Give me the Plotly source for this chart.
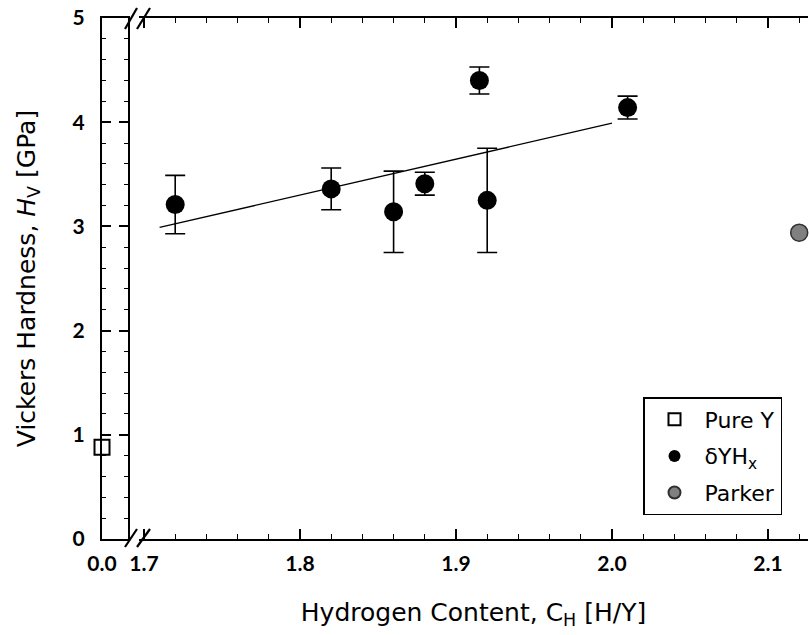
import plotly.graph_objects as go

# ---- data ----
pure_x = [0.0]
pure_y = [0.88]

dyh_x = [1.72, 1.82, 1.86, 1.88, 1.915, 1.92, 2.01]
dyh_y = [3.21, 3.36, 3.14, 3.41, 4.40, 3.25, 4.14]
dyh_err = [0.28, 0.20, 0.39, 0.11, 0.13, 0.50, 0.11]

parker_x = [2.12]
parker_y = [2.94]

fit_x = [1.71, 2.00]
fit_y = [2.99, 3.99]

x_ticks_main = [1.7, 1.8, 1.9, 2.0, 2.1]
x_ticks_main_text = ["1.7", "1.8", "1.9", "2.0", "2.1"]
y_ticks = [0, 1, 2, 3, 4, 5]

# ---- geometry (pixels) ----
W, H = 809, 635
ML, MR, MT, MB = 102, 1, 18, 96
PW = W - ML - MR
PH = H - MT - MB


def px(p):
    return (p - ML) / PW


def py(p):
    return (H - MB - p) / PH


TICKFONT = "Lato"
TEXTFONT = "DejaVu Sans"

fig = go.Figure()

fig.add_trace(go.Scatter(
    x=fit_x, y=fit_y, xaxis="x2", yaxis="y", mode="lines",
    line=dict(color="black", width=1.3), showlegend=False, hoverinfo="skip"))

fig.add_trace(go.Scatter(
    x=pure_x, y=pure_y, xaxis="x", yaxis="y", mode="markers", name="Pure Y",
    legendgroup="a",
    marker=dict(symbol="square-open", size=15, color="black", line=dict(width=2)),
    cliponaxis=False))

fig.add_trace(go.Scatter(
    x=dyh_x, y=dyh_y, xaxis="x2", yaxis="y", mode="markers", name="δYH<sub>x</sub>",
    legendgroup="b",
    error_y=dict(type="data", array=dyh_err, visible=True, color="black",
                 thickness=1.6, width=10),
    marker=dict(symbol="circle", size=19, color="black"),
    cliponaxis=False))

fig.add_trace(go.Scatter(
    x=parker_x, y=parker_y, xaxis="x2", yaxis="y", mode="markers", name="Parker",
    legendgroup="c",
    marker=dict(symbol="circle", size=17, color="#808080",
                line=dict(color="#303030", width=1.5)),
    cliponaxis=False))

tickfont = dict(family=TICKFONT, size=21, color="black", weight="bold")

x1_end = px(128)
x2_start = px(139)
scale = 0.1 / 156.0
x2_lo = 1.7 - (144 - 139) * scale
x2_hi = 1.7 + (W - MR - 144) * scale

fig.update_layout(
    width=W, height=H,
    margin=dict(l=ML, r=MR, t=MT, b=MB),
    paper_bgcolor="white", plot_bgcolor="white",
    font=dict(family=TEXTFONT, color="black"),
    showlegend=True,
    legend=dict(
        x=px(782), y=py(515), xanchor="right", yanchor="bottom",
        bgcolor="white", bordercolor="black", borderwidth=1.5,
        font=dict(family=TEXTFONT, size=22, color="black"),
        itemsizing="constant", itemwidth=50, tracegroupgap=5,
    ),
    xaxis=dict(
        domain=[0, x1_end], range=[0, 0.1],
        showline=True, linecolor="black", linewidth=2, mirror=True,
        showgrid=False, zeroline=False, ticks="",
        tickvals=[0], ticktext=["0.0"], tickfont=tickfont,
        ticklabelstandoff=5,
    ),
    xaxis2=dict(
        domain=[x2_start, 1], range=[x2_lo, x2_hi], anchor="y",
        showline=True, linecolor="black", linewidth=2, mirror="ticks",
        showgrid=False, zeroline=False,
        ticks="inside", ticklen=10, tickwidth=1.6, tickcolor="black",
        tickvals=x_ticks_main, ticktext=x_ticks_main_text, tickfont=tickfont,
        minor=dict(dtick=0.02, tick0=1.7, ticks="inside", ticklen=5,
                   tickwidth=1.4, tickcolor="black"),
        ticklabelstandoff=5,
        title=dict(text="Hydrogen Content, C<sub>H</sub> [H/Y]",
                   font=dict(family=TEXTFONT, size=25, color="black"), standoff=29),
    ),
    yaxis=dict(
        range=[0, 5], anchor="x",
        showline=True, linecolor="black", linewidth=2, mirror="ticks",
        showgrid=False, zeroline=False,
        ticks="inside", ticklen=9, tickwidth=1.6, tickcolor="black",
        tickvals=y_ticks, tickfont=tickfont,
        minor=dict(dtick=0.2, ticks="inside", ticklen=4, tickwidth=1.4,
                   tickcolor="black"),
        ticklabelstandoff=11,
        title=dict(text="Vickers Hardness, <i>H</i><sub>V</sub> [GPa]",
                   font=dict(family=TEXTFONT, size=25, color="black"), standoff=30),
    ),
)

breaks = []
for (y0p, y1p) in [(547, 529), (29, 8)]:
    for (x0p, x1p) in [(125, 137), (137, 150)]:
        breaks.append(dict(type="line", xref="paper", yref="paper",
                           x0=px(x0p), x1=px(x1p), y0=py(y0p), y1=py(y1p),
                           line=dict(color="black", width=2.2)))
fig.update_layout(shapes=breaks)

fig.write_html("out.html")
